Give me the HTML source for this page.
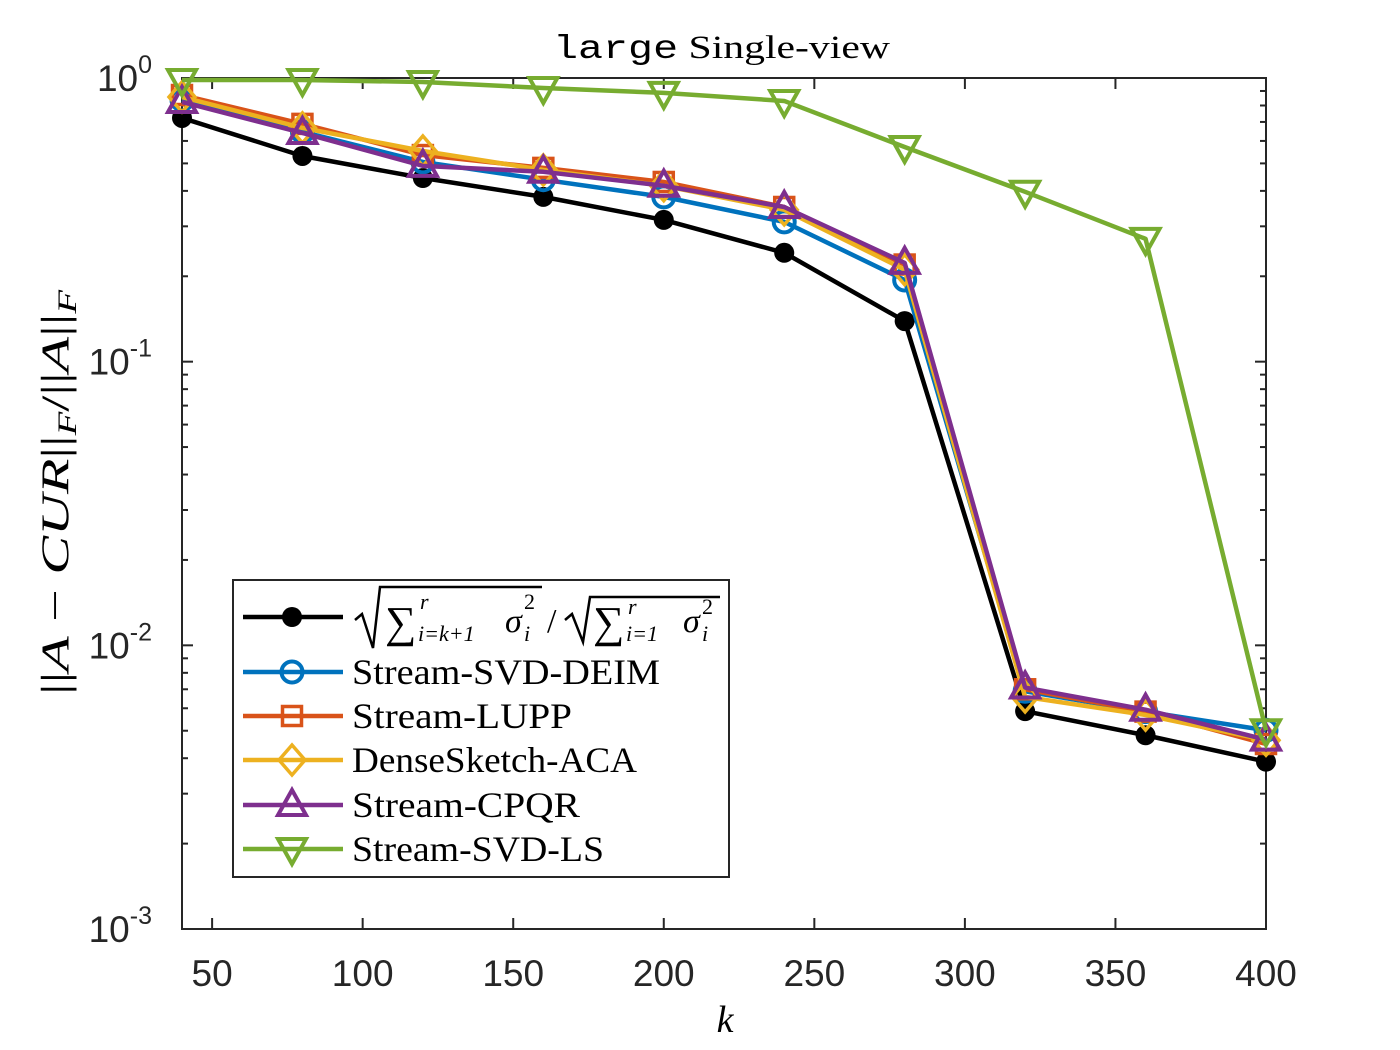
<!DOCTYPE html>
<html><head><meta charset="utf-8"><style>
body{margin:0;background:#fff}
svg{display:block}
</style></head><body>
<svg id="chart" width="1400" height="1050" xmlns="http://www.w3.org/2000/svg">
<rect width="1400" height="1050" fill="#fff"/>
<g id="plot"></g>
<text x="553" y="58" font-size="33" fill="#000" textLength="337" lengthAdjust="spacingAndGlyphs"><tspan font-family="Liberation Mono, monospace">large</tspan><tspan font-family="Liberation Serif, serif"> Single-view</tspan></text>
<text x="725" y="1032" text-anchor="middle" font-family="Liberation Serif, serif" font-style="italic" font-size="38">k</text>
<text transform="translate(68,695) rotate(-90)" font-family="Liberation Serif, serif" font-size="39" textLength="405" lengthAdjust="spacingAndGlyphs">||<tspan font-style="italic">A</tspan> − <tspan font-style="italic">CUR</tspan>||<tspan font-style="italic" font-size="26" dy="8">F</tspan><tspan dy="-8">/||</tspan><tspan font-style="italic">A</tspan>||<tspan font-style="italic" font-size="26" dy="8">F</tspan></text>
</svg>
<script>
const ks=[40,80,120,160,200,240,280,320,360,400];
const xTicks=[50,100,150,200,250,300,350,400];
const yTickExp=[0,-1,-2,-3];
const sBlack=[0.723,0.531,0.444,0.381,0.316,0.242,0.139,0.00586,0.00482,0.00389];
const sBlue=[0.837,0.646,0.506,0.438,0.381,0.311,0.194,0.00689,0.00584,0.00502];
const sOrange=[0.871,0.689,0.535,0.482,0.430,0.351,0.220,0.00700,0.00584,0.00449];
const sYellow=[0.857,0.667,0.553,0.474,0.417,0.343,0.211,0.00658,0.00568,0.00463];
const sPurple=[0.823,0.640,0.490,0.467,0.417,0.351,0.223,0.00710,0.00593,0.00465];
const sGreen=[0.984,0.984,0.968,0.922,0.886,0.830,0.571,0.397,0.271,0.00502];
const labels=["","Stream-SVD-DEIM","Stream-LUPP","DenseSketch-ACA","Stream-CPQR","Stream-SVD-LS"];
const labelWidths=[0,308,220,285,228,252];

const L=182,R=1266,T=78,B=929;
const X=k=>L+(k-40)/(400-40)*(R-L);
const Y=v=>T+(-Math.log10(v))/3*(B-T);
const NS="http://www.w3.org/2000/svg";
const g=document.getElementById('plot');
function mk(tag,attrs,parent){const e=document.createElementNS(NS,tag);for(const a in attrs)e.setAttribute(a,attrs[a]);(parent||g).appendChild(e);return e;}

const box=mk('rect',{x:L,y:T,width:R-L,height:B-T,fill:'none',stroke:'#262626','stroke-width':2});


xTicks.forEach(t=>{
  const x=X(t);
  const l1=mk('line',{x1:x,x2:x,y1:B,y2:B-11,stroke:'#262626','stroke-width':2});
  
  
  mk('line',{x1:x,x2:x,y1:T,y2:T+11,stroke:'#262626','stroke-width':2});
  const tx=mk('text',{x:x,y:986,'text-anchor':'middle','font-family':'Liberation Sans, sans-serif','font-size':37,fill:'#262626'});
  tx.textContent=t;
  
  
});
yTickExp.forEach(e=>{
  const y=Y(Math.pow(10,e));
  mk('line',{x1:L,x2:L+11,y1:y,y2:y,stroke:'#262626','stroke-width':2});
  mk('line',{x1:R,x2:R-11,y1:y,y2:y,stroke:'#262626','stroke-width':2});
  const tx=mk('text',{x:152,y:y+13,'text-anchor':'end','font-family':'Liberation Sans, sans-serif','font-size':37,fill:'#262626'});
  tx.textContent='10';
  const sp=mk('tspan',{'font-size':25,dy:-18},tx);sp.textContent=String(e);
  
  
  if(e>-3){for(let m=2;m<=9;m++){const yy=Y(m*Math.pow(10,e-1));
    mk('line',{x1:L,x2:L+6,y1:yy,y2:yy,stroke:'#262626','stroke-width':2});
    mk('line',{x1:R,x2:R-6,y1:yy,y2:yy,stroke:'#262626','stroke-width':2});}}
});

function marker(type,x,y,color,parent){
  const p=parent||g;let e;
  if(type==='dot')e=mk('circle',{cx:x,cy:y,r:10,fill:'#000'},p);
  else if(type==='circle')e=mk('circle',{cx:x,cy:y,r:10.5,fill:'none',stroke:color,'stroke-width':4},p);
  else if(type==='square')e=mk('rect',{x:x-9.5,y:y-9.5,width:19,height:19,fill:'none',stroke:color,'stroke-width':3.5},p);
  else if(type==='diamond')e=mk('polygon',{points:`${x},${y-15} ${x+13},${y} ${x},${y+15} ${x-13},${y}`,fill:'none',stroke:color,'stroke-width':3.5},p);
  else if(type==='up')e=mk('polygon',{points:`${x},${y-15} ${x+14},${y+10} ${x-14},${y+10}`,fill:'none',stroke:color,'stroke-width':4},p);
  else e=mk('polygon',{points:`${x},${y+15} ${x+14},${y-10} ${x-14},${y-10}`,fill:'none',stroke:color,'stroke-width':4},p);
  return e;
}
const series=[
 {d:sBlack,c:'#000000',m:'dot',n:'series-singular-bound'},
 {d:sBlue,c:'#0072BD',m:'circle',n:'series-stream-svd-deim'},
 {d:sOrange,c:'#D95319',m:'square',n:'series-stream-lupp'},
 {d:sYellow,c:'#EDB120',m:'diamond',n:'series-densesketch-aca'},
 {d:sPurple,c:'#7E2F8E',m:'up',n:'series-stream-cpqr'},
 {d:sGreen,c:'#77AC30',m:'down',n:'series-stream-svd-ls'}];
series.forEach(s=>{
  const grp=mk('g',{});
  
  
  mk('polyline',{points:s.d.map((v,i)=>X(ks[i])+','+Y(v)).join(' '),fill:'none',stroke:s.c,'stroke-width':4.5,'stroke-linejoin':'round'},grp);
  s.d.forEach((v,i)=>{const m=marker(s.m,X(ks[i]),Y(v),s.c,grp);
    
    });
});

const lg=mk('g',{});


mk('rect',{x:233,y:580,width:496,height:297,fill:'#fff',stroke:'#262626','stroke-width':2},lg);
const rows=[617,672,716,760,805,849];
function txt(p,x,y,s,fs,it){const t=mk('text',{x:x,y:y,'font-family':'Liberation Serif, serif','font-size':fs,'font-style':it?'italic':'normal'},p);t.textContent=s;return t;}
series.forEach((s,i)=>{
  const y=rows[i];
  const e=mk('g',{},lg);
  
  
  mk('line',{x1:243,x2:343,y1:y,y2:y,stroke:s.c,'stroke-width':4.5},e);
  marker(s.m,292,y,s.c,e);
  if(i===0){
    mk('polyline',{points:'355,620 362,614 373,648 380,587 542,587',fill:'none',stroke:'#000','stroke-width':2.5},e);
    txt(e,385,637,'∑',44,false);
    txt(e,420,609,'r',22,true);
    txt(e,418,641,'i=k+1',22,true);
    txt(e,505,632,'σ',34,true);
    txt(e,524,609,'2',22,false);
    txt(e,524,641,'i',22,true);
    txt(e,547,632,'/',34,false);
    mk('polyline',{points:'565,620 572,614 583,642 590,597 720,597',fill:'none',stroke:'#000','stroke-width':2.5},e);
    txt(e,593,637,'∑',44,false);
    txt(e,628,614,'r',22,true);
    txt(e,626,641,'i=1',22,true);
    txt(e,683,632,'σ',34,true);
    txt(e,702,614,'2',22,false);
    txt(e,702,641,'i',22,true);
  } else {
    const t=mk('text',{x:352,y:y+12,'font-family':'Liberation Serif, serif','font-size':36,textLength:labelWidths[i],lengthAdjust:'spacingAndGlyphs'},e);
    t.textContent=labels[i];
  }
});
</script>
</body></html>
